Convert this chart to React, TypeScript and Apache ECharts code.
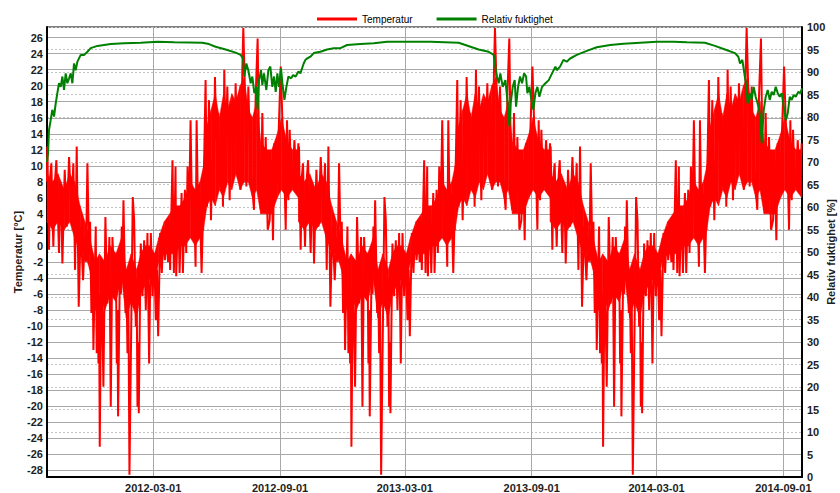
import React, { useEffect, useRef } from "react";
import * as echarts from "echarts";

// Series start (local date) and length of one yearly cycle in days
const START_DATE = "2011-09-29";
const END_DATE = "2014-09-28";
const CYCLE_DAYS = 365;
const CYCLE_COUNT = 3;

// Date tick labels on the x axis
const X_TICKS = ["2012-03-01", "2012-09-01", "2013-03-01", "2013-09-01", "2014-03-01", "2014-09-01"];

// Left axis ticks (°C) and right axis ticks (%)
const TEMP_TICK_MIN = -28;
const TEMP_TICK_MAX = 26;
const TEMP_TICK_STEP = 2;
const HUM_TICK_MIN = 0;
const HUM_TICK_MAX = 100;
const HUM_TICK_STEP = 5;

const TEMP_NAME = "Temperatur [°C]";
const HUM_NAME = "Relativ fuktighet [%]";

// Temperature, one yearly cycle: [day from start, °C]
// (the reference repeats the same weather year three times)
const tempCycle: [number, number][] = [
  [0, 8.0], [0.5, 12.4], [2.9, -0.5], [4.5, 8.5], [6.3, 10.3], [9.2, -0.1], [11.5, 8], [13.6, 10.7],
  [17.4, -0.9], [19, 6], [20.8, 4.9], [22.3, -2.2], [25.7, 9.5], [28.6, 2.4], [32.0, 11.1], [35.3, 4.1],
  [38.2, 10.3], [40.7, -3.0], [43.1, 12.4], [46.0, -7.6], [48.9, 2.4], [52.3, -4.3], [54.7, 1.1], [56.5, -2],
  [58.6, 10.3], [61.0, -0.9], [62.5, 3], [64.4, -8.4], [66, -1], [67.3, -13.0], [70.7, 2.4], [72.1, -13.4],
  [73.4, -4], [74.6, -14.7], [75.5, -6], [76.5, -25.1], [78.9, -1.8], [81.8, -17.6], [84.7, 3.6], [87.6, -7.2],
  [90.5, 1.1], [92.5, -20.1], [94.9, 1.1], [98.3, -5.9], [99.8, -1], [101.2, -14.7], [102.2, -8], [103.1, -21.3],
  [106.0, -0.9], [107.2, -6], [108.4, 2.4], [109.5, -3], [110.9, 5.7], [113.8, -8.4], [115, -3], [116.7, -13.4],
  [118, -6], [119.6, -28.6], [122.5, -7.6], [124.4, 6.1], [126.4, 3.2], [128.8, -10.1], [130, -4], [131.2, -20.1],
  [132.2, -12], [133.1, -20.9], [134.6, -9.3], [136.0, 0.3], [138.5, -6.3], [140.9, 0.7], [143.3, -8.0], [145.7, 1.6],
  [148.1, -14.7], [150.6, 1.6], [153.0, -6.3], [155.4, -0.9], [157.8, -9.3], [159.5, -3], [161.2, -11.3], [164.1, 1.6],
  [166.5, -3.4], [169.0, 2.4], [170.9, -1.8], [173.8, 1.1], [175.5, -2], [177.2, 3.2], [178.6, -3.0], [182.0, 10.7],
  [184.0, -3.4], [186.4, 9.9], [187.4, -3.8], [190.3, 4.9], [192.3, -3.4], [195.2, 6.6], [197.1, -3.4], [200.0, 7.0],
  [201.9, -0.9], [203.9, 9.9], [205.8, 2.4], [208.2, 15.7], [210.6, 2.4], [213.1, 6.6], [215.5, -2.6], [217.0, 15.7],
  [219.4, 1.6], [221.3, 6.6], [224.2, -3.4], [226.1, 3.2], [228.1, 11.6], [230.0, 20.7], [232.0, 4.9], [234.9, 18.2],
  [237.8, 3.2], [239.7, 10.7], [241.6, 6.6], [243.6, 21.1], [245.5, 13.2], [248.4, 16.6], [250.3, 7.4], [253.3, 16.6],
  [255.2, 4.9], [257.1, 22.0], [259.1, 10.7], [261.5, 19.9], [264.9, 5.7], [267.8, 17.8], [270.7, 9.1], [273.6, 20.3],
  [276.5, 8.6], [278.4, 17.8], [280.9, 7.0], [283.3, 22.0], [284.7, 27.2], [286.7, 20.7], [289.1, 7.4], [292.0, 19.9],
  [294.9, 10.7], [297.8, 7.0], [300.2, 4.5], [302.6, 18.6], [305.5, 25.9], [307.5, 12.4], [309.9, 4.5], [312.3, 16.6],
  [314.7, 4.1], [317.2, 13.6], [320.1, 2.0], [323.0, 3.2], [325.4, 10.7], [327.8, 0.7], [329.7, 12.8], [332.7, 6.6],
  [335.6, 13.2], [339.0, 22.4], [341.4, 15.7], [343.8, 10.7], [346.2, 2.0], [348.1, 15.7], [350.1, 5.7], [352.0, 14.5],
  [354.0, 8.6], [355.9, 7.4], [358.8, 13.2], [361.7, 8.2], [364.6, 12.8],
];

// Dense core of the temperature trace (hourly swings), one cycle: [day, low °C, high °C]
const tempCoreCycle: [number, number, number][] = [
  [0, 3, 9], [8, 2, 8], [16, 3, 9], [25, 2, 7], [33, 3, 9], [40, 1, 8], [48, -1, 5], [55, -1, 3],
  [62, -3, 1], [70, -8, -2], [76, -6, -1], [84, -8, -2], [92, -6, 0], [100, -7, -1], [108, -4, 1],
  [115, -9, -3], [122, -7, -1], [130, -9, -3], [136, -6, -1], [142, -5, 0], [150, -4, 0], [156, -5, -1],
  [162, -2, 1], [170, -1, 3], [178, -1, 4], [185, -1, 5], [193, 0, 5], [200, 0, 6], [208, 1, 8],
  [215, 0, 7], [222, 1, 8], [227, 2, 10], [232, 5, 15], [238, 6, 17], [244, 5, 19], [250, 7, 16],
  [256, 6, 19], [262, 8, 17], [268, 7, 19], [274, 9, 18], [280, 7, 20], [286, 8, 21], [292, 8, 17],
  [298, 6, 16], [304, 7, 18], [310, 4, 13], [318, 4, 12], [326, 4, 12], [334, 6, 14], [340, 7, 16],
  [348, 6, 13], [356, 7, 12], [364.6, 6, 12],
];

// Relative humidity: [day from start, %]
const humYear1: [number, number][] = [
  [0, 70.0], [1.5, 71.9], [2.9, 77.1], [5.3, 79.3], [7.7, 81.6], [10.2, 80.1], [12.6, 83.0], [15.0, 85.3],
  [17.4, 87.5], [19.9, 86.7], [22.3, 89.0], [24.7, 86.0], [27.1, 89.7], [29.5, 87.5], [32.0, 88.6], [34.4, 89.7],
  [36.8, 87.5], [39.2, 91.9], [41.6, 90.4], [44.1, 92.3], [48.9, 93.8], [53.7, 93.8], [58.6, 94.5], [63.4, 95.3],
  [73.1, 95.8], [82.8, 96.0], [92.5, 96.2], [111.8, 96.4], [136.0, 96.5], [160.3, 96.7], [184.5, 96.6], [225.2, 96.5],
  [234.9, 96.2], [244.5, 95.6], [259.1, 95.0], [273.6, 94.3], [280.9, 93.8], [284.2, 93.0], [286.2, 89.0], [289.1, 91.9],
  [292.0, 90.4], [295.4, 87.5], [297.8, 89.0], [300.7, 85.3], [303.6, 86.7], [305.5, 81.6], [307.5, 88.2], [310.4, 90.4],
  [312.3, 87.1], [314.7, 89.7], [318.1, 86.0], [321.0, 90.4], [323.9, 91.2], [326.8, 86.7], [329.3, 89.0], [331.7, 85.6],
  [334.1, 89.7], [336.5, 86.7], [339.4, 90.8], [341.4, 87.5], [344.3, 83.8], [347.2, 86.7], [350.1, 89.0], [354.0, 88.6],
  [356.9, 89.3], [360.7, 89.0], [364.6, 90.1],
];
const humYear2: [number, number][] = [
  [367.5, 89.7], [372.3, 91.9], [374.8, 92.7], [377.2, 93.0], [382.0, 93.4], [386.9, 94.2], [396.5, 94.5], [406.2, 95.0],
  [415.9, 95.3], [425.6, 95.3], [435.3, 96.0], [454.6, 96.2], [474.0, 96.4], [493.4, 96.7], [512.7, 96.7], [537.0, 96.7],
  [556.3, 96.7], [597.0, 96.5], [606.7, 96.0], [626.0, 95.0], [640.5, 94.5], [647.8, 93.8], [650.2, 91.2], [652.6, 89.0],
  [655.1, 87.5], [657.5, 89.7], [660.9, 86.7], [664.8, 88.2], [667.7, 83.8], [670.6, 77.9], [672.5, 83.0], [675.4, 86.7],
  [678.3, 88.2], [680.3, 82.3], [683.2, 86.7], [686.1, 89.0], [689.0, 87.5], [691.9, 89.7], [694.8, 89.0], [696.7, 85.3],
  [699.6, 86.7], [702.5, 83.8], [705.4, 81.6], [708.3, 85.3], [711.2, 86.7], [714.1, 84.5], [718.0, 86.7], [722.9, 87.5],
  [727.7, 88.2], [732.5, 89.7], [737.4, 91.2],
];
const humYear3: [number, number][] = [
  [739.3, 90.4], [744.1, 91.2], [749.0, 92.7], [753.8, 92.3], [758.7, 93.0], [768.4, 93.8], [782.9, 94.7], [797.4, 95.5],
  [816.8, 96.0], [836.1, 96.3], [860.3, 96.5], [884.5, 96.7], [908.8, 96.7], [928.1, 96.6], [954.2, 96.5], [968.8, 95.8],
  [983.3, 95.0], [997.8, 94.2], [1002.7, 93.4], [1005.1, 91.9], [1008.5, 92.7], [1011.4, 89.7], [1014.3, 86.7], [1016.2, 83.0],
  [1019.1, 85.3], [1022.0, 83.8], [1024.9, 86.7], [1027.8, 84.5], [1030.7, 83.0], [1033.7, 80.8], [1036.6, 74.2], [1039.5, 81.6],
  [1042.4, 84.5], [1045.3, 86.0], [1048.2, 83.8], [1051.1, 85.6], [1054.0, 84.9], [1056.9, 86.7], [1059.8, 85.3], [1062.7, 84.5],
  [1065.6, 85.3], [1068.5, 82.3], [1071.4, 79.3], [1074.3, 80.8], [1077.2, 84.5], [1080.1, 83.8], [1083.0, 84.9], [1085.9, 84.5],
  [1089.8, 85.6], [1092.7, 85.3], [1095.0, 86.4],
];

const DAY_MS = 86400000;
function parseDate(s: string): number {
  const [y, m, d] = s.split("-").map(Number);
  return new Date(y, m - 1, d).getTime();
}
function fmtDate(v: number): string {
  const d = new Date(v);
  const p = (n: number) => (n < 10 ? "0" + n : "" + n);
  return d.getFullYear() + "-" + p(d.getMonth() + 1) + "-" + p(d.getDate());
}

export default function App() {
  const ref = useRef<HTMLDivElement>(null);
  useEffect(() => {
    if (!ref.current) return;
    const chart = echarts.init(ref.current, undefined, { renderer: "svg" });
    const startTs = parseDate(START_DATE);
    const endTs = parseDate(END_DATE);
    const toTs = (d: number) => startTs + d * DAY_MS;

    const tempData: [number, number][] = [];
    const core: [number, number, number][] = [];
    for (let k = 0; k < CYCLE_COUNT; k++) {
      tempCycle.forEach(([d, v]) => tempData.push([toTs(d + k * CYCLE_DAYS), v]));
      tempCoreCycle.forEach(([d, lo, hi]) => core.push([toTs(d + k * CYCLE_DAYS), lo, hi]));
    }
    // each segment between two consecutive core samples: [t0, lo0, hi0, t1, lo1, hi1]
    const coreSegments = core.slice(0, -1).map((c, i) => [...c, ...core[i + 1]]);
    const humData = [...humYear1, ...humYear2, ...humYear3].map(([d, v]) => [toTs(d), v]);
    const xTicks = X_TICKS.map(parseDate);

    const font = "'Liberation Sans', Arial, sans-serif";
    const labelStyle = { fontFamily: font, fontSize: 11, fontWeight: "bold" as const, color: "#1e1e1e" };

    // Plot grid: top 27, bottom 477 (px). Temperature scale set so -28 and 26 fall on their tick lines.
    const gridTop = 27, gridBottom = 16, tickTop = 37.7, tickBottom = 23;
    const plotH = 493 - gridTop - gridBottom;
    const labH = 493 - tickTop - tickBottom;
    const unit = labH / (TEMP_TICK_MAX - TEMP_TICK_MIN);
    const tMax = TEMP_TICK_MAX + (tickTop - gridTop) / unit;
    const tMin = TEMP_TICK_MIN - (plotH - (tickTop - gridTop) - labH) / unit;

    chart.setOption({
      animation: false,
      backgroundColor: "#fff",
      legend: {
        left: 312,
        top: 9,
        icon: "rect",
        itemWidth: 40,
        itemHeight: 3,
        itemGap: 24,
        textStyle: { fontFamily: font, fontSize: 10, color: "#000" },
        data: ["Temperatur", "Relativ fuktighet"],
      },
      graphic: [
        {
          type: "text",
          x: 18,
          y: 252,
          rotation: Math.PI / 2,
          style: { text: TEMP_NAME, font: "bold 11px " + font, fill: "#1e1e1e", align: "center", verticalAlign: "middle" },
        },
        {
          type: "text",
          x: 831,
          y: 252,
          rotation: Math.PI / 2,
          style: { text: HUM_NAME, font: "bold 11px " + font, fill: "#1e1e1e", align: "center", verticalAlign: "middle" },
        },
      ],
      grid: [
        { left: 47, right: 38, top: gridTop, bottom: gridBottom, show: true, borderColor: "#000", borderWidth: 1, backgroundColor: "transparent", outerBoundsMode: "none", containLabel: false },
        { left: 47, right: 38, top: tickTop, bottom: tickBottom, outerBoundsMode: "none", containLabel: false },
      ],
      xAxis: [
        {
          type: "value",
          gridIndex: 0,
          min: startTs,
          max: endTs,
          axisLine: { show: true, onZero: false, lineStyle: { color: "#000", width: 2 } },
          axisTick: { show: false, customValues: xTicks },
          axisLabel: { ...labelStyle, customValues: xTicks, margin: 5, formatter: (v: number) => fmtDate(v), hideOverlap: false },
          splitLine: { show: true, lineStyle: { color: "#a8a8a8", width: 1 } },
        },
        { type: "value", gridIndex: 1, min: 0, max: 1, show: false },
      ],
      yAxis: [
        {
          type: "value",
          gridIndex: 0,
          position: "left",
          min: tMin,
          max: tMax,
          axisLine: { show: true, onZero: false, lineStyle: { color: "#000", width: 2 } },
          axisTick: { show: false },
          axisLabel: { show: false },
          splitLine: { show: false },
        },
        {
          type: "value",
          gridIndex: 0,
          position: "right",
          min: HUM_TICK_MIN,
          max: HUM_TICK_MAX,
          interval: HUM_TICK_STEP,
          axisLine: { show: true, onZero: false, lineStyle: { color: "#000", width: 2 } },
          axisTick: { show: false },
          axisLabel: { ...labelStyle, margin: 5 },
          splitLine: { show: true, lineStyle: { color: "#c4c4c4", width: 1, type: [2, 2] } },
        },
        {
          type: "value",
          gridIndex: 1,
          position: "left",
          min: TEMP_TICK_MIN,
          max: TEMP_TICK_MAX,
          interval: TEMP_TICK_STEP,
          axisLine: { show: false },
          axisTick: { show: false },
          axisLabel: { ...labelStyle, margin: 4 },
          splitLine: { show: true, lineStyle: { color: "#a8a8a8", width: 1 } },
        },
      ],
      series: [
        {
          name: "core",
          type: "custom",
          xAxisIndex: 0,
          yAxisIndex: 0,
          silent: true,
          z: 2,
          data: coreSegments,
          renderItem: (params: any, api: any) => {
            const a = api.coord([api.value(0), api.value(1)]);
            const b = api.coord([api.value(0), api.value(2)]);
            const c = api.coord([api.value(3), api.value(5)]);
            const d = api.coord([api.value(3), api.value(4)]);
            return {
              type: "polygon",
              shape: { points: [a, b, c, d] },
              style: { fill: "#ff0000", stroke: "#ff0000", lineWidth: 0.5 },
            };
          },
        },
        {
          name: "Temperatur",
          type: "line",
          xAxisIndex: 0,
          yAxisIndex: 0,
          symbol: "none",
          data: tempData,
          lineStyle: { color: "#ff0000", width: 2 },
          itemStyle: { color: "#ff0000" },
          z: 3,
        },
        {
          name: "Relativ fuktighet",
          type: "line",
          xAxisIndex: 0,
          yAxisIndex: 1,
          symbol: "none",
          data: humData,
          lineStyle: { color: "#008000", width: 2 },
          itemStyle: { color: "#008000" },
          z: 4,
        },
      ],
    });
    return () => chart.dispose();
  }, []);
  return <div ref={ref} style={{ width: 840, height: 493, position: "absolute", left: 0, top: 0 }} />;
}
